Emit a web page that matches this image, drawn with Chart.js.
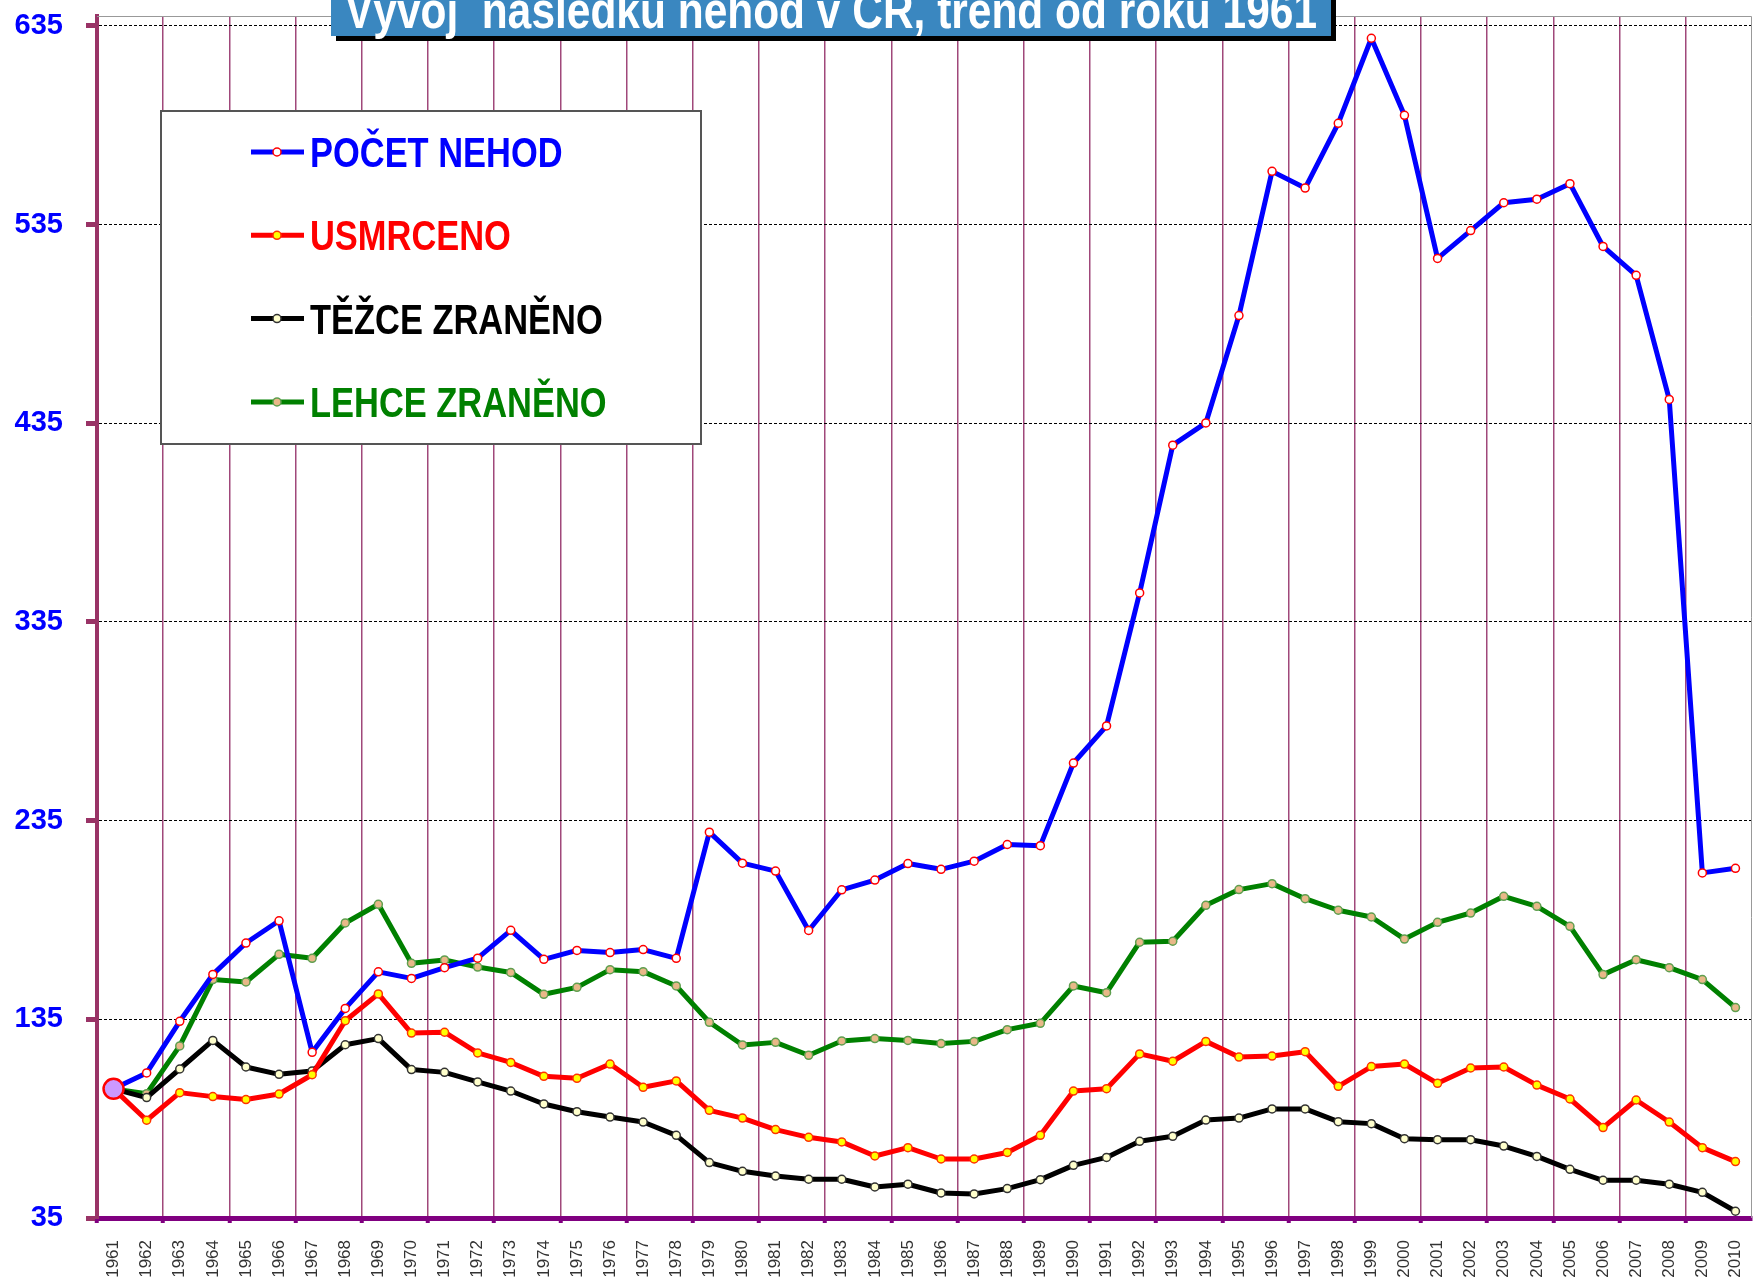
<!DOCTYPE html>
<html>
<head>
<meta charset="utf-8">
<title>Vývoj následků nehod v ČR</title>
<script src="https://cdn.jsdelivr.net/npm/chart.js@4/dist/chart.umd.min.js"></script>
<style>
    body { margin: 0; background: #fff; }
    canvas { display: block; }
</style>
</head>
<body>
<canvas id="lineChart" width="1754" height="1281"></canvas>
<script>
const years = ['1961','1962','1963','1964','1965','1966','1967','1968','1969','1970',
    '1971','1972','1973','1974','1975','1976','1977','1978','1979','1980',
    '1981','1982','1983','1984','1985','1986','1987','1988','1989','1990',
    '1991','1992','1993','1994','1995','1996','1997','1998','1999','2000',
    '2001','2002','2003','2004','2005','2006','2007','2008','2009','2010'];

// index, 1961 = 100
const pocetNehod = [100,108,134,157.6,173.4,184.6,118.4,140.5,158.9,155.6,
    161,165.8,179.8,165.2,169.7,168.6,170.1,165.7,229.2,213.6,
    209.6,179.7,200.2,205.1,213.4,210.5,214.6,223,222.4,264,
    282.7,349.6,424,435.2,489.2,561.8,553.4,586,628.8,590,
    518,532,546,547.8,555.6,524,509.5,447,208.7,211];
const usmrceno = [100,84.2,98.1,96.1,94.6,97.4,107.1,134.3,147.8,128.1,
    128.5,118.1,113.3,106.3,105.3,112.5,100.8,104,89.2,85.3,
    79.5,75.6,73.3,66.2,70.4,64.7,64.7,68,76.6,98.9,
    100.1,117.6,113.9,123.9,116,116.5,118.7,101.3,111.2,112.5,
    102.8,110.5,111,101.9,94.9,80.5,94.4,83.3,70.4,63.4];
const tezceZraneno = [100,95.6,110,124.4,111,107.3,109,122.2,125.3,109.7,
    108.3,103.5,98.9,92.4,88.5,85.8,83.3,76.6,62.9,58.5,
    56.1,54.5,54.5,50.6,52,47.6,47.1,49.8,54.3,61.5,
    65.5,73.6,76.1,84.3,85.3,89.9,89.9,83.5,82.5,74.9,
    74.4,74.4,71.2,66,59.5,54,54,52,47.9,38.4];
const lehceZraneno = [100,97.6,121.6,155,153.8,167.7,165.7,183.5,192.9,163.2,
    164.9,161.3,158.6,147.6,151.1,160,159,151.8,133.5,122.1,
    123.4,116.9,124.1,125.3,124.4,122.8,123.9,129.8,133,151.8,
    148.4,173.8,174.3,192.4,200.3,203.3,195.7,189.9,186.5,175.4,
    183.8,188.5,196.9,191.9,181.8,157.5,165,161,155,140.9];

const yTicks = [35,135,235,335,435,535,635];
const seriesNames = ['POČET NEHOD','USMRCENO','TĚŽCE ZRANĚNO','LEHCE ZRANĚNO'];
const titleText = 'Vývoj  následků nehod v ČR, trend od roku 1961';

const sans = '"Liberation Sans", Arial, sans-serif';

function series(label, data, line, fill, edge) {
    return {
        label: label,
        data: data,
        borderColor: line,
        backgroundColor: line,
        borderWidth: 5,
        borderJoinStyle: 'round',
        borderCapStyle: 'round',
        tension: 0,
        pointRadius: 4,
        pointBorderWidth: 1.5,
        pointBackgroundColor: fill,
        pointBorderColor: edge,
        legendFill: fill,
        legendEdge: edge
    };
}

const datasets = [
    series(seriesNames[0], pocetNehod, '#0000ff', '#ffffff', '#ff0000'),
    series(seriesNames[1], usmrceno, '#ff0000', '#ffff00', '#ff3300'),
    series(seriesNames[2], tezceZraneno, '#000000', '#ffffcc', '#333333'),
    series(seriesNames[3], lehceZraneno, '#008000', '#e8b888', '#5f9f4f')
];
// big violet starting point (1961 = 100)
datasets[0].pointRadius = (c) => c.dataIndex === 0 ? 10 : 4;
datasets[0].pointBorderWidth = (c) => c.dataIndex === 0 ? 2.5 : 1.5;
datasets[0].pointBackgroundColor = (c) => c.dataIndex === 0 ? '#cc99ff' : '#ffffff';

// narrow-looking text: squeeze a normal bold font sideways
function narrowText(c, text, x, y, size, sx) {
    c.save();
    c.font = 'bold ' + size + 'px ' + sans;
    c.translate(x, y);
    c.scale(sx, 1);
    c.fillText(text, 0, 0);
    c.restore();
}

// frame, title and legend box
const decor = {
    id: 'decor',
    beforeDatasetsDraw(chart) {
        const c = chart.ctx, a = chart.chartArea;
        c.save();
        c.strokeStyle = '#999999';
        c.lineWidth = 1;
        c.beginPath();
        c.moveTo(a.left, a.top + 0.5);
        c.lineTo(a.right - 0.5, a.top + 0.5);
        c.lineTo(a.right - 0.5, a.bottom);
        c.stroke();
        c.restore();
    },
    afterDatasetsDraw(chart) {
        const c = chart.ctx;
        c.save();
        // title
        c.fillStyle = '#000000';
        c.fillRect(336, 0, 1000, 41);
        c.fillStyle = '#3a87c0';
        c.fillRect(331, 0, 1000, 36);
        c.fillStyle = '#ffffff';
        c.textBaseline = 'alphabetic';
        c.textAlign = 'left';
        c.font = 'bold 52px ' + sans;
        const tw = c.measureText(titleText).width;
        narrowText(c, titleText, 345, 28, 52, 972 / tw);

        // legend
        c.fillStyle = '#ffffff';
        c.fillRect(161, 111, 540, 333);
        c.strokeStyle = '#555555';
        c.lineWidth = 2;
        c.strokeRect(161, 111, 540, 333);
        chart.data.datasets.forEach((ds, i) => {
            const y = 152 + i * 83.3;
            c.strokeStyle = ds.borderColor;
            c.lineWidth = 5;
            c.beginPath();
            c.moveTo(251, y);
            c.lineTo(304, y);
            c.stroke();
            c.beginPath();
            c.arc(277, y, 4, 0, Math.PI * 2);
            c.fillStyle = ds.legendFill;
            c.fill();
            c.lineWidth = 1.5;
            c.strokeStyle = ds.legendEdge;
            c.stroke();
            c.fillStyle = ds.borderColor;
            narrowText(c, ds.label, 310, y + 15, 42, 0.82);
        });
        c.restore();
    }
};

const ctx = document.getElementById('lineChart').getContext('2d');
const chart = new Chart(ctx, {
    type: 'line',
    data: {
        labels: years,
        datasets: datasets
    },
    options: {
        responsive: false,
        devicePixelRatio: 1,
        animation: false,
        layout: {
            autoPadding: false,
            padding: { top: 16, right: 2, left: 0, bottom: 0 }
        },
        plugins: {
            legend: { display: false },
            tooltip: { enabled: false }
        },
        scales: {
            x: {
                type: 'category',
                offset: true,
                afterFit: (s) => { s.height = 63; s.paddingLeft = 0; s.paddingRight = 0; },
                grid: {
                    offset: true,
                    color: (c) => (c.index > 0 && c.index < years.length && c.index % 2 === 0) ? '#a0487a' : 'rgba(0,0,0,0)',
                    lineWidth: 1.5,
                    tickColor: (c) => (c.index < years.length && c.index % 2 === 0) ? '#800080' : 'rgba(0,0,0,0)',
                    tickWidth: 4,
                    tickLength: 5
                },
                border: { color: '#800080', width: 5 },
                ticks: {
                    autoSkip: false,
                    minRotation: 90,
                    maxRotation: 90,
                    padding: 17,
                    color: '#333333',
                    font: { family: sans, size: 17 }
                }
            },
            y: {
                min: 35,
                max: 640,
                afterFit: (s) => { s.width = 97; s.paddingTop = 0; s.paddingBottom = 0; },
                afterBuildTicks: (s) => { s.ticks = yTicks.map(v => ({ value: v })); },
                grid: {
                    color: (c) => (c.tick && c.tick.value === 35) ? 'rgba(0,0,0,0)' : '#000000',
                    lineWidth: 1,
                    tickColor: '#993366',
                    tickWidth: 5,
                    tickLength: 11,
                    tickBorderDash: []
                },
                border: { color: '#993366', width: 4, dash: [3, 2] },
                ticks: {
                    padding: 23,
                    color: '#0000ff',
                    font: { family: sans, size: 29, weight: 'bold' }
                }
            }
        }
    },
    plugins: [decor]
});
</script>
</body>
</html>
